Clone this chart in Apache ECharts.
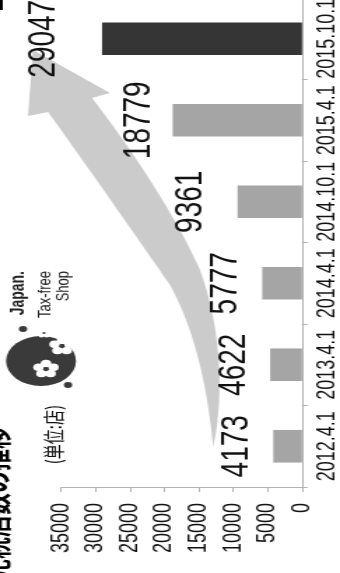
<!DOCTYPE html>
<html>
<head>
<meta charset="utf-8">
<script src="https://cdn.jsdelivr.net/npm/echarts@6/dist/echarts.min.js"></script>
<style>
html,body{margin:0;padding:0;background:#fff;overflow:hidden;width:340px;height:573px;}
#chart{width:243px;height:573px;transform:scaleX(1.39918);transform-origin:0 0;}
</style>
</head>
<body>
<div id="chart"></div>
<script>
// ---- data ----
const categories = ['2012.4.1', '2013.4.1', '2014.4.1', '2014.10.1', '2015.4.1', '2015.10.1'];
const storeCounts = [4173, 4622, 5777, 9361, 18779, 29047];
const valueMin = 0;
const valueMax = 35000;
const valueStep = 5000;
const titleText = '免税店数の推移';
const unitText = '(単位:店)';
const logoLines = ['Japan.', 'Tax-free', 'Shop'];

// ---- style ----
const S = 340 / 243;             // horizontal stretch applied by CSS
const tx = X => X / S;           // screen x -> chart x
const labelGaps = [26, 26, 26, 33, 24, 42];
const lightBar = '#a5a5a5';
const darkBar = '#353535';
const axisGray = '#b3b3b3';
const FONT = '"Liberation Sans", Arial, sans-serif';

const barData = storeCounts.map((v, i) => ({
  value: v,
  itemStyle: { color: i === storeCounts.length - 1 ? darkBar : lightBar },
  label: { distance: labelGaps[i] }
}));

// arrow outline (decoration), sampled from bezier segments
function bez(p0, p1, p2, p3, n) {
  const out = [];
  for (let k = 1; k <= n; k++) {
    const t = k / n, u = 1 - t;
    out.push([
      u*u*u*p0[0] + 3*u*u*t*p1[0] + 3*u*t*t*p2[0] + t*t*t*p3[0],
      u*u*u*p0[1] + 3*u*u*t*p1[1] + 3*u*t*t*p2[1] + t*t*t*p3[1]
    ]);
  }
  return out;
}
let arrow = [[213, 447]];
arrow = arrow.concat(bez([213,447],[224,400],[222,330],[200,270],20));
arrow = arrow.concat(bez([200,270],[180,225],[140,160],[92,98],20));
arrow.push([110, 93], [33, 50], [28, 116], [48, 112]);
arrow = arrow.concat(bez([48,112],[90,170],[135,235],[170,285],20));
arrow = arrow.concat(bez([170,285],[195,330],[208,390],[213,447],20));
const arrowPts = arrow.map(p => [tx(p[0]), p[1]]);

function flower(cx, cy, r) {
  const els = [];
  for (let k = 0; k < 5; k++) {
    const a = -Math.PI / 2 + k * 2 * Math.PI / 5;
    els.push({ type: 'circle', shape: { cx: cx + Math.cos(a) * r * 0.62, cy: cy + Math.sin(a) * r * 0.62, r: r * 0.42 }, style: { fill: '#fff' } });
  }
  els.push({ type: 'circle', shape: { cx: cx, cy: cy, r: r * 0.22 }, style: { fill: '#3a3a3a' } });
  return els;
}

function rotText(x, y, text, font, align, vAlign, color) {
  return {
    type: 'text', x: x, y: y, rotation: Math.PI / 2,
    style: { text: text, font: font, fill: color || '#111',
      align: align, textAlign: align, verticalAlign: vAlign, textVerticalAlign: vAlign }
  };
}

const graphics = [
  { type: 'polygon', shape: { points: arrowPts }, style: { fill: '#cbcbcb' }, z: 0 },
  { type: 'rect', shape: { x: 0, y: 0, width: 2, height: 10 }, style: { fill: '#000' } },
  rotText(-3, 427, titleText, 'bold 22px "Noto Sans CJK JP", sans-serif', 'right', 'middle', '#000'),
  rotText(tx(53), 405, unitText, '15px "Noto Sans CJK JP", sans-serif', 'right', 'middle', '#111'),
  { type: 'circle', shape: { cx: tx(41), cy: 361, r: 25 }, style: { fill: '#3a3a3a' } },
  { type: 'circle', shape: { cx: tx(23), cy: 329, r: 3 }, style: { fill: '#3a3a3a' } },
  { type: 'circle', shape: { cx: tx(68), cy: 385, r: 3 }, style: { fill: '#3a3a3a' } },
  ...flower(tx(62), 346, 9),
  ...flower(tx(46), 369, 9),
  ...flower(tx(44), 333, 5),
  rotText(tx(19), 271, logoLines[0], 'bold 14px ' + FONT, 'right', 'middle', '#222'),
  rotText(tx(45), 271, logoLines[1], '13px ' + FONT, 'right', 'middle', '#222'),
  rotText(tx(64), 271, logoLines[2], '13px ' + FONT, 'right', 'middle', '#222')
];

const chart = echarts.init(document.getElementById('chart'));
chart.setOption({
  animation: false,
  backgroundColor: '#fff',
  grid: { left: tx(61), right: 243 - tx(302), top: -2, bottom: 86, containLabel: false, outerBoundsMode: 'none' },
  xAxis: {
    type: 'value', inverse: true, position: 'bottom',
    min: valueMin, max: valueMax, interval: valueStep,
    axisLine: { show: true, lineStyle: { color: axisGray, width: 1 } },
    axisTick: { show: true, length: 5, lineStyle: { color: axisGray } },
    splitLine: { show: false },
    axisLabel: { rotate: 90, fontSize: 18, fontFamily: FONT, color: '#111', margin: 16,
      formatter: v => String(v) }
  },
  yAxis: {
    type: 'category', position: 'right', data: categories,
    axisLine: { show: true, lineStyle: { color: axisGray, width: 1 } },
    axisTick: { show: true, length: 4, lineStyle: { color: axisGray } },
    axisLabel: { rotate: 90, interval: 0, fontSize: 18, fontFamily: FONT, color: '#111', margin: 9 }
  },
  series: [{
    type: 'bar', data: barData, barWidth: '40%', z: 2,
    label: {
      show: true, position: 'outside', rotate: 90,
      align: 'center', verticalAlign: 'middle',
      fontSize: 28, fontFamily: FONT, color: '#111',
      formatter: p => String(p.value)
    }
  }],
  graphic: graphics
});
</script>
</body>
</html>
